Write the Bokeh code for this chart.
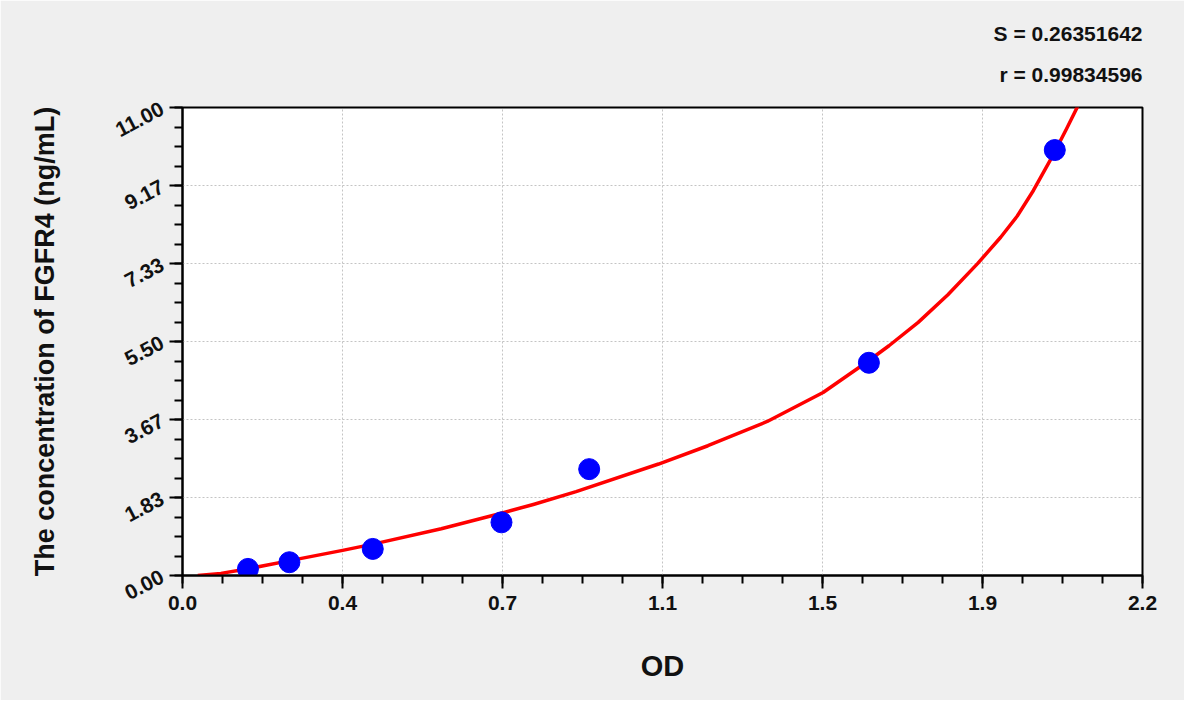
from bokeh.plotting import figure
from bokeh.models import FixedTicker, Title, Range1d
from bokeh.embed import file_html
from bokeh.resources import INLINE

# ---- data ----
od = [0.150, 0.245, 0.436, 0.731, 0.932, 1.573, 1.999]
conc = [0.156, 0.312, 0.625, 1.25, 2.5, 5.0, 10.0]

curve_od = [0.035, 0.088, 0.141, 0.246, 0.367, 0.442, 0.593, 0.733, 0.804,
            0.902, 1.091, 1.204, 1.340, 1.468, 1.566, 1.619, 1.686, 1.754,
            1.822, 1.875, 1.913, 1.950, 1.996, 2.026, 2.056]
curve_conc = [0.00, 0.05, 0.14, 0.35, 0.59, 0.75, 1.10, 1.47, 1.67,
              1.97, 2.62, 3.05, 3.62, 4.30, 5.00, 5.40, 5.95, 6.60,
              7.33, 7.95, 8.45, 9.05, 9.90, 10.50, 11.12]

x_tick_labels = ["0.0", "0.4", "0.7", "1.1", "1.5", "1.9", "2.2"]
y_tick_labels = ["0.00", "1.83", "3.67", "5.50", "7.33", "9.17", "11.00"]

x_max = 2.2
y_max = 11.0
stat_s = "S = 0.26351642"
stat_r = "r = 0.99834596"

FONT = "Liberation Sans"

x_ticks = [x_max * i / 6 for i in range(7)]
y_ticks = [y_max * i / 6 for i in range(7)]
x_minor = [x_max * i / 24 for i in range(25)]
y_minor = [y_max * i / 24 for i in range(25)]

p = figure(width=1184, height=700, output_backend="svg", toolbar_location=None,
           x_range=Range1d(0, x_max), y_range=Range1d(0, y_max),
           min_border_left=182, min_border_right=42, min_border_top=107,
           min_border_bottom=125)

p.border_fill_color = "#efefef"
p.background_fill_color = "white"
p.outline_line_color = "black"
p.outline_line_width = 2

p.xaxis.ticker = FixedTicker(ticks=x_ticks, minor_ticks=x_minor)
p.yaxis.ticker = FixedTicker(ticks=y_ticks, minor_ticks=y_minor)
p.xaxis.major_label_overrides = {t: l for t, l in zip(x_ticks, x_tick_labels)}
p.yaxis.major_label_overrides = {t: l for t, l in zip(y_ticks, y_tick_labels)}

for ax in (p.xaxis, p.yaxis):
    ax.axis_line_color = "black"
    ax.axis_line_width = 2
    ax.major_tick_line_color = "black"
    ax.major_tick_line_width = 2
    ax.minor_tick_line_color = "black"
    ax.minor_tick_line_width = 2
    ax.major_tick_in = 0
    ax.major_tick_out = 13
    ax.minor_tick_in = 0
    ax.minor_tick_out = 8
    ax.major_label_text_font = FONT
    ax.major_label_text_font_style = "bold"
    ax.major_label_text_font_size = "21px"
    ax.major_label_text_color = "#111111"
    ax.axis_label_text_font = FONT
    ax.axis_label_text_font_style = "bold"
    ax.axis_label_text_color = "#111111"

p.xaxis.major_label_standoff = 7
p.yaxis.major_label_standoff = 7
p.yaxis.major_label_orientation = 0.48

p.xaxis.axis_label = "OD"
p.xaxis.axis_label_text_font_size = "29px"
p.xaxis.axis_label_standoff = 37
p.yaxis.axis_label = "The concentration of FGFR4 (ng/mL)"
p.yaxis.axis_label_text_font_size = "27px"
p.yaxis.axis_label_standoff = 47

p.xgrid.grid_line_color = "#c4c4c4"
p.ygrid.grid_line_color = "#c4c4c4"
p.xgrid.grid_line_dash = "2 2"
p.ygrid.grid_line_dash = "2 2"
p.xgrid.grid_line_width = 1
p.ygrid.grid_line_width = 1

p.line(curve_od, curve_conc, line_color="#ff0000", line_width=3.5,
       line_join="round")
p.scatter(od, conc, size=21, fill_color="#0000ff", line_color="#0000ff")

# statistics text above the plot, right-aligned to the frame
for txt, so in ((stat_r, 43), (stat_s, -10)):
    p.add_layout(Title(text=txt, align="right", text_font=FONT,
                       text_font_style="bold", text_font_size="21px",
                       text_color="#111111", standoff=so), "above")

open("out.html", "w").write(file_html(p, INLINE))
